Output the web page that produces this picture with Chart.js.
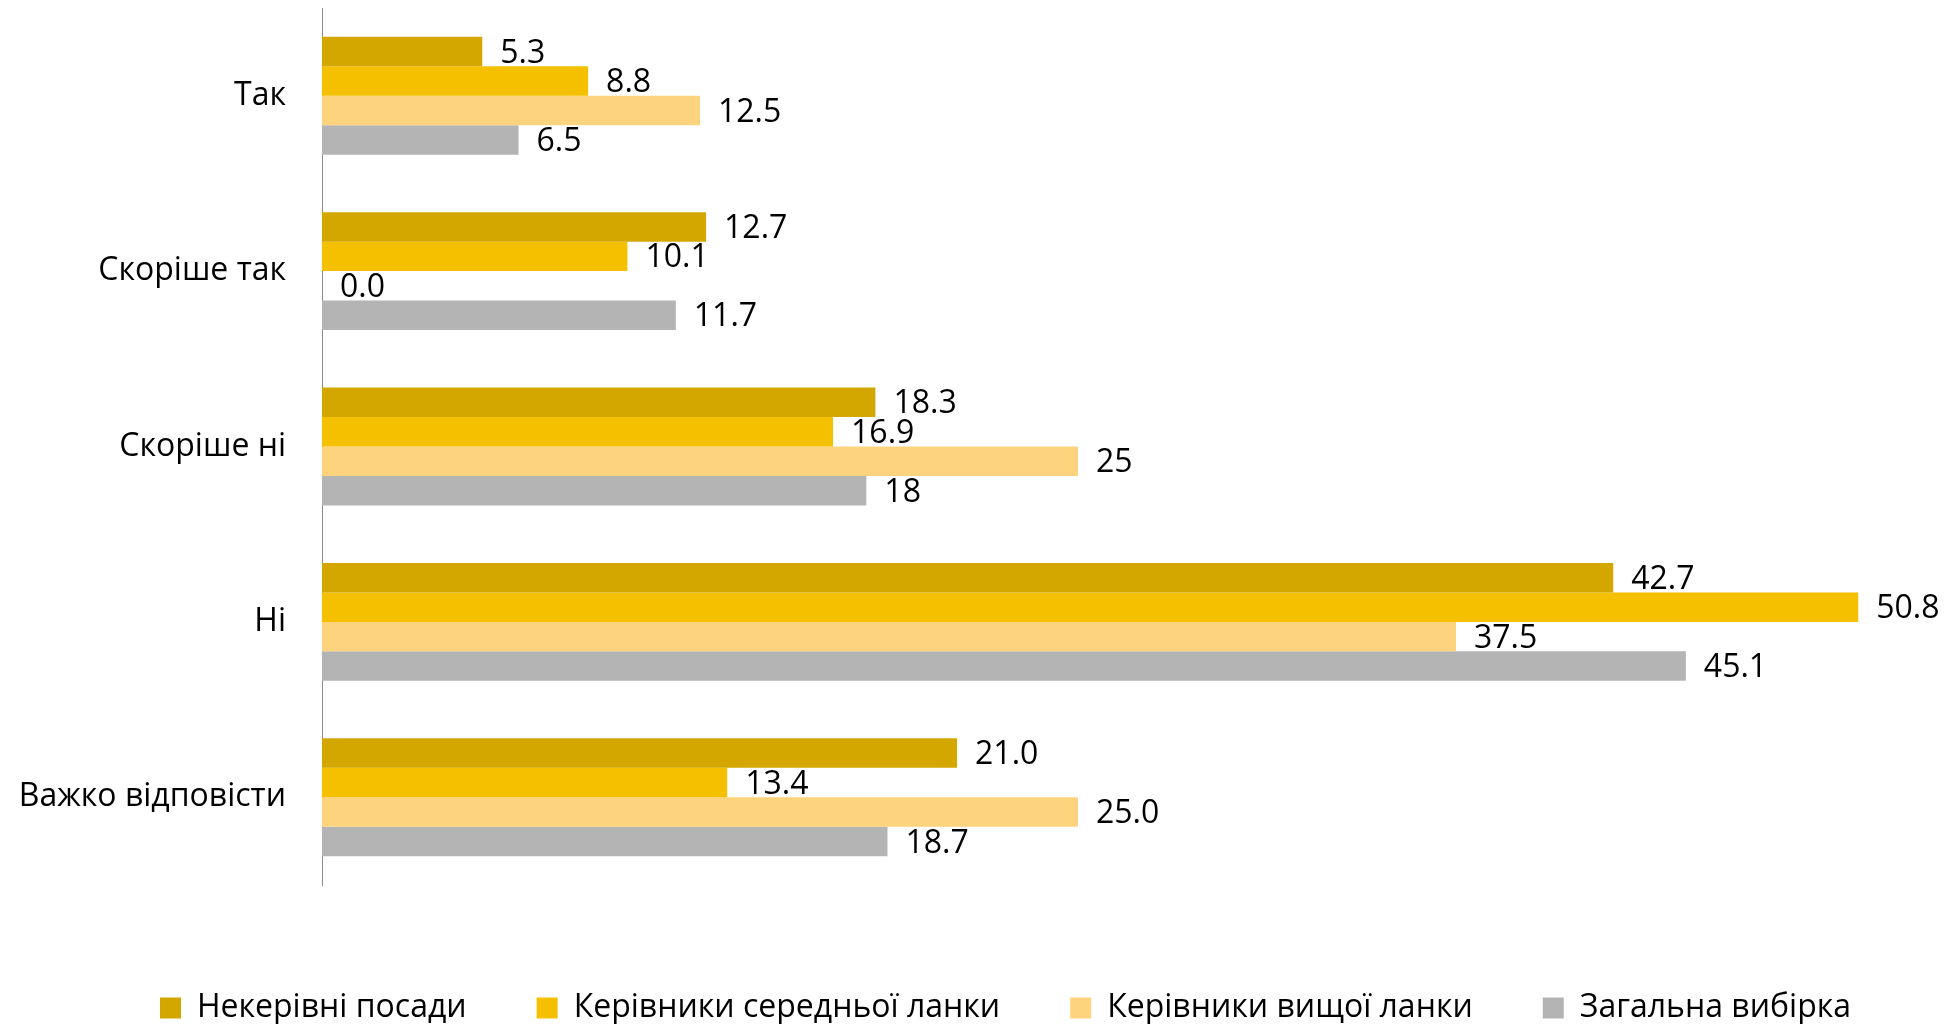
<!DOCTYPE html>
<html>
<head>
<meta charset="utf-8">
<script src="https://cdn.jsdelivr.net/npm/chart.js@4/dist/chart.umd.min.js"></script>
<style>
  html, body { margin: 0; padding: 0; background: #ffffff; }
  #wrap { width: 1959px; height: 1024px; }
</style>
</head>
<body>
<div id="wrap"><canvas id="c" width="1959" height="1024"></canvas></div>
<script>
const categories = ["Так", "Скоріше так", "Скоріше ні", "Ні", "Важко відповісти"];
const seriesNames = ["Некерівні посади", "Керівники середньої ланки", "Керівники вищої ланки", "Загальна вибірка"];
const nonManagers = [5.3, 12.7, 18.3, 42.7, 21.0];
const middleManagers = [8.8, 10.1, 16.9, 50.8, 13.4];
const topManagers = [12.5, 0.0, 25, 37.5, 25.0];
const overall = [6.5, 11.7, 18, 45.1, 18.7];
const nonManagersLabels = ["5.3", "12.7", "18.3", "42.7", "21.0"];
const middleManagersLabels = ["8.8", "10.1", "16.9", "50.8", "13.4"];
const topManagersLabels = ["12.5", "0.0", "25", "37.5", "25.0"];
const overallLabels = ["6.5", "11.7", "18", "45.1", "18.7"];
const colors = ["#D3A700", "#F4C000", "#FED37E", "#B4B4B4"];

const FONT = "'Open Sans', sans-serif";
const FONT_SIZE = 32;
const allValues = [nonManagers, middleManagers, topManagers, overall];
const allLabels = [nonManagersLabels, middleManagersLabels, topManagersLabels, overallLabels];

const valueLabelPlugin = {
  id: 'valueLabels',
  afterDatasetsDraw(chart) {
    const ctx = chart.ctx;
    ctx.save();
    ctx.font = FONT_SIZE + "px " + FONT;
    ctx.fillStyle = "#000000";
    ctx.textAlign = "left";
    ctx.textBaseline = "middle";
    chart.data.datasets.forEach((ds, i) => {
      const meta = chart.getDatasetMeta(i);
      meta.data.forEach((bar, j) => {
        ctx.fillText(allLabels[i][j], bar.x + 18, bar.y + 2);
      });
    });
    ctx.restore();
  }
};

const legendShiftPlugin = {
  id: 'legendShift',
  afterLayout(chart) {
    if (chart.legend) {
      chart.legend.left += 28;
      chart.legend.right += 28;
    }
  }
};

new Chart(document.getElementById('c'), {
  type: 'bar',
  data: {
    labels: categories,
    datasets: allValues.map((vals, i) => ({
      label: seriesNames[i],
      data: vals,
      backgroundColor: colors[i],
      borderWidth: 0,
      categoryPercentage: 0.672,
      barPercentage: 1.0
    }))
  },
  options: {
    indexAxis: 'y',
    responsive: false,
    animation: false,
    devicePixelRatio: 1,
    layout: { padding: { top: 8, left: 0, right: 4, bottom: 0 } },
    scales: {
      x: {
        min: 0,
        max: 54,
        display: true,
        grid: { display: false, drawTicks: false },
        border: { display: false },
        ticks: { display: false },
        afterFit(scale) { scale.height = 37; }
      },
      y: {
        grid: { display: true, drawOnChartArea: false, drawTicks: true, tickLength: 36, tickColor: 'rgba(0,0,0,0)' },
        border: { display: true, color: '#8C8C8C', width: 1 },
        ticks: {
          color: '#000000',
          font: { family: FONT, size: FONT_SIZE, lineHeight: 0.5 },
          padding: 0
        },
        afterFit(scale) { scale.width = 322; }
      }
    },
    plugins: {
      legend: {
        position: 'bottom',
        maxHeight: 102,
        labels: {
          color: '#000000',
          font: { family: FONT, size: FONT_SIZE },
          boxWidth: 21,
          boxHeight: 21,
          padding: 70
        }
      },
      tooltip: { enabled: false }
    }
  },
  plugins: [valueLabelPlugin, legendShiftPlugin]
});
</script>
</body>
</html>
